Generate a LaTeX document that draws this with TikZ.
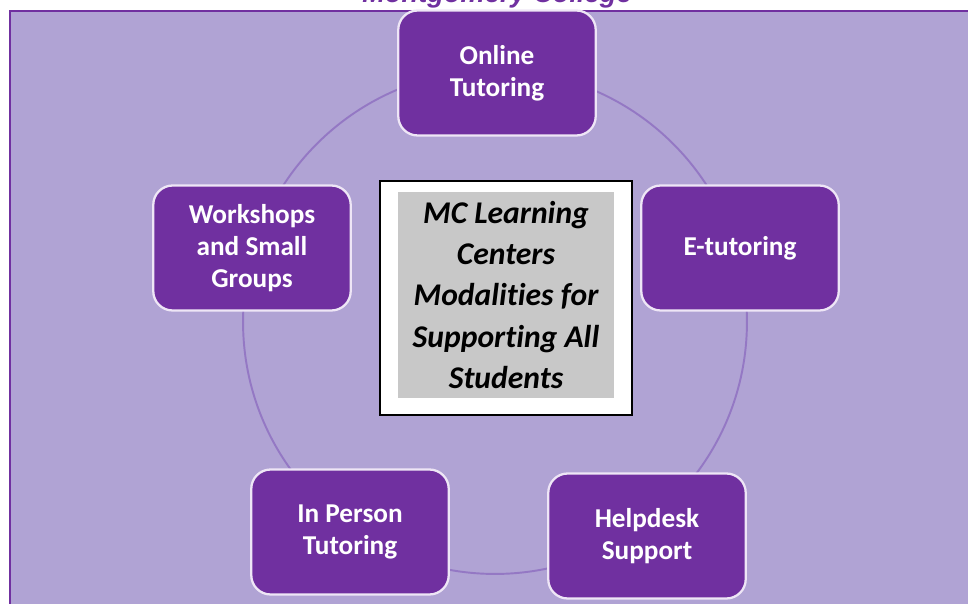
\documentclass[tikz,border=0pt]{standalone}
\usepackage{fontspec}
\newfontfamily\boxfont[Ligatures=NoCommon]{Carlito}
\newfontfamily\titlefont{Liberation Sans}
\usetikzlibrary{positioning}
\definecolor{mcpurple}{HTML}{7030A0}
\definecolor{mclavender}{HTML}{B0A3D4}
\definecolor{mcring}{HTML}{9478C4}
\definecolor{mcedge}{HTML}{EEE6F6}
\definecolor{mcgray}{HTML}{C8C8C8}

\tikzset{
  modality/.style={draw=mcedge, line width=1.3pt, fill=mcpurple,
    rounded corners=11pt, minimum width=3.95cm, minimum height=2.5cm,
    text=white, align=center,
    font=\boxfont\bfseries\fontsize{15.5}{18}\selectfont},
  hubframe/.style={draw=black, line width=1.2pt, fill=white,
    minimum width=5.04cm, minimum height=4.68cm},
  hubtext/.style={fill=mcgray, minimum width=4.34cm, minimum height=4.12cm,
    align=center, text=black,
    font=\boxfont\bfseries\itshape\fontsize{18}{23.5}\selectfont},
  ring/.style={draw=mcring, line width=1.1pt},
  heading/.style={text=mcpurple,
    font=\titlefont\bfseries\itshape\fontsize{15.5}{18}\selectfont}
}

\begin{document}
\begin{tikzpicture}[x=0.02cm,y=-0.02cm]
    % ------------------------------------------------------------------
    %                           BACKGROUND
    % ------------------------------------------------------------------
    \useasboundingbox (0,0) rectangle (968,604);
    \clip (0,0) rectangle (968,604);
    \fill[mclavender] (10,11) rectangle (968,604);
    \draw[mcpurple, line width=1.6pt] (10,604) -- (10,11) -- (968,11);

    % cut-off heading above the frame
    \node[heading, anchor=base] (title) at (497,2.5) {Montgomery College};

    % ring behind the boxes
    \coordinate (hub) at (495,322);
    \draw[ring] (hub) circle [radius=5.04cm];

    % ------------------------------------------------------------------
    %                             NODES
    % ------------------------------------------------------------------
    % centre
    \node[hubframe]  (frame)  at (506,298) {};
    \node[hubtext]   (centre) at (506,295)
      {MC Learning\\Centers\\Modalities for\\Supporting All\\Students};
    % outer ring, clockwise from the top
    \node[modality] (online)    at (497,73)  {Online\\Tutoring};
    \node[modality] (etutor)    at (740,248) {E-tutoring};
    \node[modality] (helpdesk)  at (647,536) {Helpdesk\\Support};
    \node[modality] (inperson)  at (350,532) {In Person\\Tutoring};
    \node[modality] (workshops) at (252,248) {Workshops\\and Small\\Groups};
\end{tikzpicture}
\end{document}
